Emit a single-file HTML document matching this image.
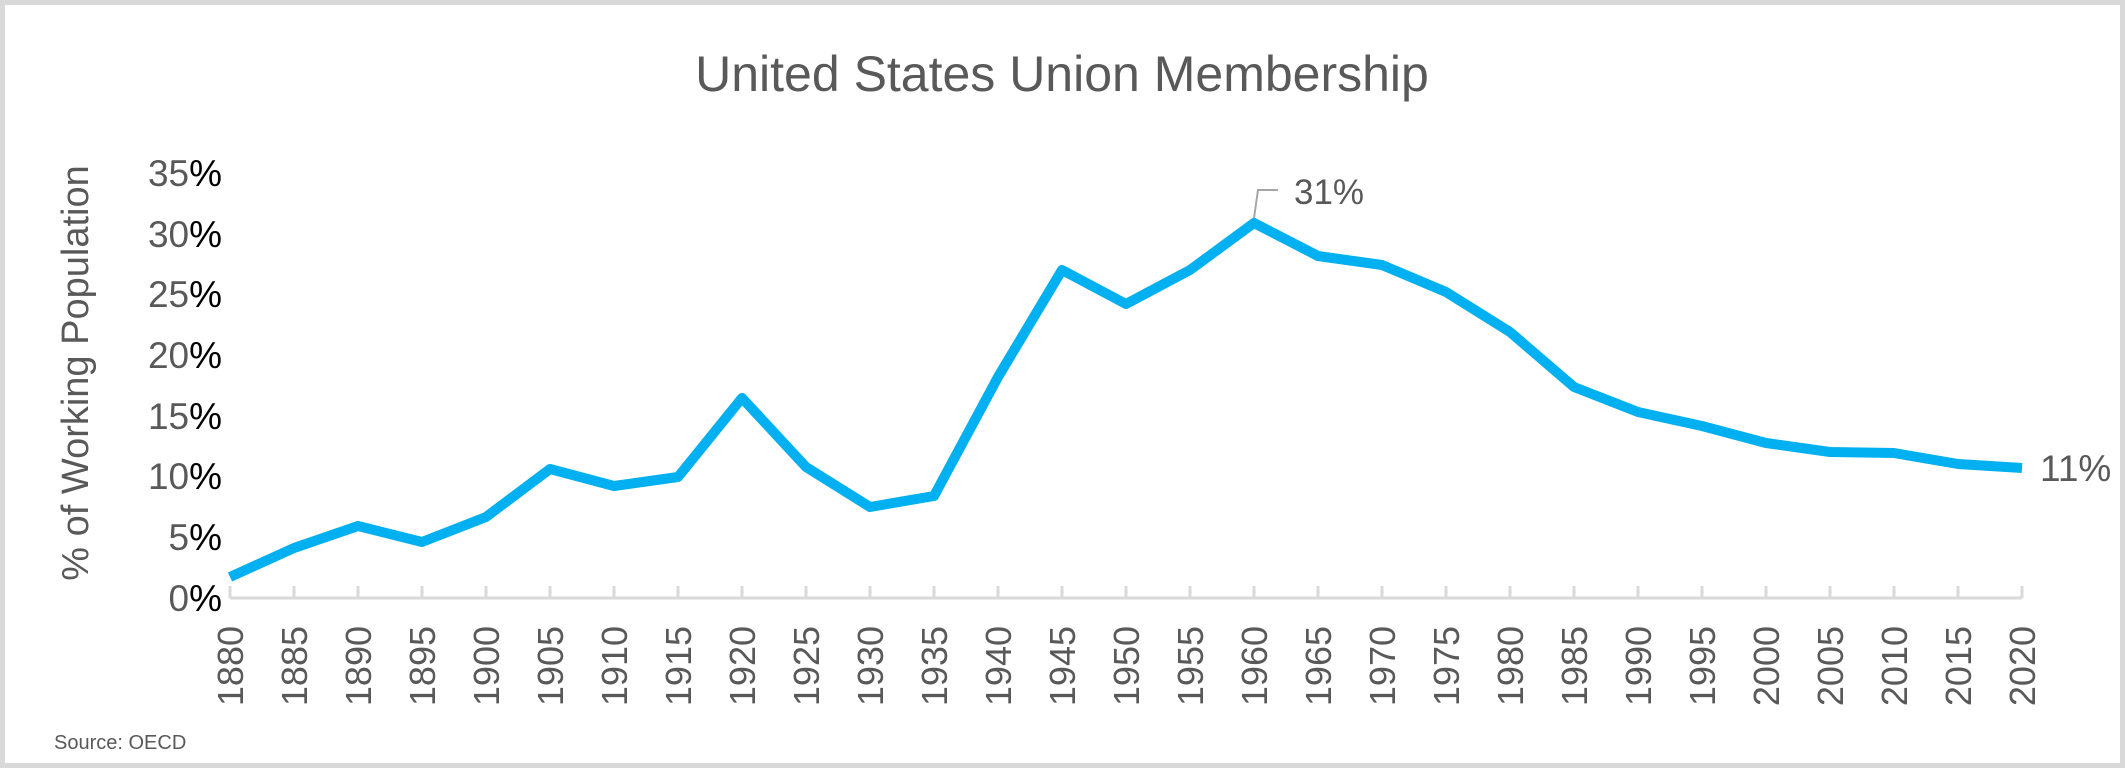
<!DOCTYPE html>
<html><head><meta charset="utf-8"><style>
html,body{margin:0;padding:0;background:#fff}
svg{display:block}
text{font-family:"Liberation Sans",sans-serif;fill:#595959}
</style></head><body>
<svg width="2125" height="768" viewBox="0 0 2125 768" xmlns="http://www.w3.org/2000/svg">
<rect x="2.5" y="2.5" width="2120" height="763" fill="#fff" stroke="#d9d9d9" stroke-width="5"/>
<text x="1062" y="91" font-size="50" text-anchor="middle">United States Union Membership</text>
<text transform="translate(88,373) rotate(-90)" font-size="38" text-anchor="middle">% of Working Population</text>
<g font-size="37" text-anchor="end">
<text x="222" y="611">0<tspan fill="#000">%</tspan></text>
<text x="222" y="550">5<tspan fill="#000">%</tspan></text>
<text x="222" y="489">10<tspan fill="#000">%</tspan></text>
<text x="222" y="429">15<tspan fill="#000">%</tspan></text>
<text x="222" y="368">20<tspan fill="#000">%</tspan></text>
<text x="222" y="307">25<tspan fill="#000">%</tspan></text>
<text x="222" y="247">30<tspan fill="#000">%</tspan></text>
<text x="222" y="186">35<tspan fill="#000">%</tspan></text>
</g>
<g stroke="#d9d9d9" stroke-width="3" fill="none">
<line x1="230" y1="598" x2="2022" y2="598"/>
<path d="M230 586V598M294 586V598M358 586V598M422 586V598M486 586V598M550 586V598M614 586V598M678 586V598M742 586V598M806 586V598M870 586V598M934 586V598M998 586V598M1062 586V598M1126 586V598M1190 586V598M1254 586V598M1318 586V598M1382 586V598M1446 586V598M1510 586V598M1574 586V598M1638 586V598M1702 586V598M1766 586V598M1830 586V598M1894 586V598M1958 586V598M2022 586V598"/>
</g>
<g font-size="36" text-anchor="end">
<text transform="translate(243,626) rotate(-90)">1880</text>
<text transform="translate(307,626) rotate(-90)">1885</text>
<text transform="translate(371,626) rotate(-90)">1890</text>
<text transform="translate(435,626) rotate(-90)">1895</text>
<text transform="translate(499,626) rotate(-90)">1900</text>
<text transform="translate(563,626) rotate(-90)">1905</text>
<text transform="translate(627,626) rotate(-90)">1910</text>
<text transform="translate(691,626) rotate(-90)">1915</text>
<text transform="translate(755,626) rotate(-90)">1920</text>
<text transform="translate(819,626) rotate(-90)">1925</text>
<text transform="translate(883,626) rotate(-90)">1930</text>
<text transform="translate(947,626) rotate(-90)">1935</text>
<text transform="translate(1011,626) rotate(-90)">1940</text>
<text transform="translate(1075,626) rotate(-90)">1945</text>
<text transform="translate(1139,626) rotate(-90)">1950</text>
<text transform="translate(1203,626) rotate(-90)">1955</text>
<text transform="translate(1267,626) rotate(-90)">1960</text>
<text transform="translate(1331,626) rotate(-90)">1965</text>
<text transform="translate(1395,626) rotate(-90)">1970</text>
<text transform="translate(1459,626) rotate(-90)">1975</text>
<text transform="translate(1523,626) rotate(-90)">1980</text>
<text transform="translate(1587,626) rotate(-90)">1985</text>
<text transform="translate(1651,626) rotate(-90)">1990</text>
<text transform="translate(1715,626) rotate(-90)">1995</text>
<text transform="translate(1779,626) rotate(-90)">2000</text>
<text transform="translate(1843,626) rotate(-90)">2005</text>
<text transform="translate(1907,626) rotate(-90)">2010</text>
<text transform="translate(1971,626) rotate(-90)">2015</text>
<text transform="translate(2035,626) rotate(-90)">2020</text>
</g>
<polyline fill="none" stroke="#00b0f0" stroke-width="10" stroke-linejoin="round" points="230,577 294,548 358,526 422,542 486,517 550,469 614,486 678,477 742,398 806,467 870,507 934,496 998,377 1062,270 1126,304 1190,270 1254,223 1318,256 1382,265 1446,292 1510,332 1574,387 1638,412 1702,426 1766,443 1830,452 1894,453 1958,464 2022,468"/>
<polyline fill="none" stroke="#a6a6a6" stroke-width="2" points="1254,218 1258,190 1278,190"/>
<text x="1294" y="204" font-size="35">31%</text>
<text x="2040" y="481" font-size="37">11%</text>
<text x="54" y="749" font-size="20">Source: OECD</text>
</svg>
</body></html>
